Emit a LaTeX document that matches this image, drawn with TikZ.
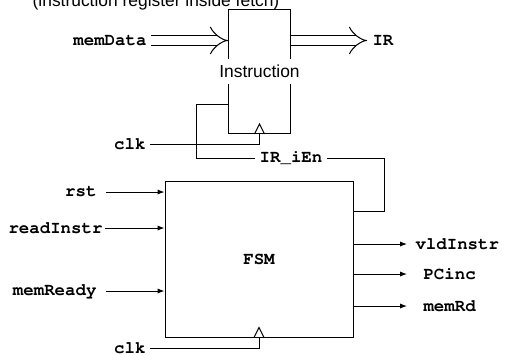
\documentclass[tikz,border=0pt]{standalone}
\usepackage[T1,TU]{fontenc}
\usepackage{fontspec}
\setmainfont{Liberation Sans}
\newcommand\sigfont{\fontencoding{T1}\fontfamily{pcr}\bfseries}
\usetikzlibrary{arrows.meta,calc}

\begin{document}
\begin{tikzpicture}[x=0.5pt, y=-0.5pt, line width=0.5pt,
    every node/.style={font=\fontsize{8.7}{10}\selectfont},
    sig/.style={font=\sigfont\fontsize{8.7}{10}\selectfont, inner sep=1pt},
    wire/.style={-{Latex[length=3.5pt,width=2.6pt]}},
    bus/.style={double, double distance=4.5pt, -{Implies}}]
  \useasboundingbox (0,0) rectangle (506,354);
  \node[anchor=base] (title) at (156,6) {(instruction register inside fetch)};
  \node[draw, minimum width=31pt, minimum height=62pt, inner sep=0pt, anchor=north west] (ireg) at (228,9) {};
  \node[fill=white, inner xsep=1pt, inner ysep=3pt] (iregname) at (ireg.center) {Instruction};
  \node[draw, sig, minimum width=94pt, minimum height=78pt] (fsm) at (259,259) {FSM};
  \draw ($(ireg.south)+(-5,0)$) -- ++(5,-10) -- ++(5,10);
  \draw ($(fsm.south)+(-5,0)$) -- ++(5,-10) -- ++(5,10);

  \node[sig, anchor=east] (memdata) at (149,40.5) {memData};
  \node[sig, anchor=west] (irout) at (370,40.5) {IR};
  \draw[bus, shorten <=1pt] (memdata.east) -- (ireg.west |- memdata.east);
  \draw[bus, shorten >=1.5pt] (ireg.east |- irout.west) -- (irout.west);

  \node[sig, anchor=east] (clka) at (148,144) {clk};
  \draw[shorten <=1pt] (clka.east) -| (ireg.south);
  \node[sig, anchor=east] (clkb) at (148,348) {clk};
  \draw[shorten <=1pt] (clkb.east) -| (fsm.south);

  \node[sig, fill=white, inner xsep=2pt] (ien) at (291,158) {IR\_iEn};
  \draw ($(fsm.north east)+(0,31)$) -- ++(31,0) |- (ien.east);
  \draw (ien.west) -| (196,104) -- (ireg.west |- 0,104);

  \node[sig, anchor=east] (rst) at (99,192) {rst};
  \node[sig, anchor=east] (readinstr) at (105,228) {readInstr};
  \node[sig, anchor=east] (memready) at (99,291) {memReady};
  \draw[wire, shorten <=3.5pt] (rst.east) -- (fsm.west |- rst.east);
  \draw[wire] (readinstr.east) -- (fsm.west |- readinstr.east);
  \draw[wire, shorten <=3.5pt] (memready.east) -- (fsm.west |- memready.east);

  \node[sig, anchor=west] (vldinstr) at (413,244) {vldInstr};
  \node[sig, anchor=west] (pcinc) at (421,274) {PCinc};
  \node[sig, anchor=west] (memrd) at (421,306) {memRd};
  \draw[wire, shorten >=3pt] (fsm.east |- vldinstr.west) -- (vldinstr.west);
  \draw[wire, shorten >=7pt] (fsm.east |- pcinc.west) -- (pcinc.west);
  \draw[wire, shorten >=7pt] (fsm.east |- memrd.west) -- (memrd.west);
\end{tikzpicture}
\end{document}
